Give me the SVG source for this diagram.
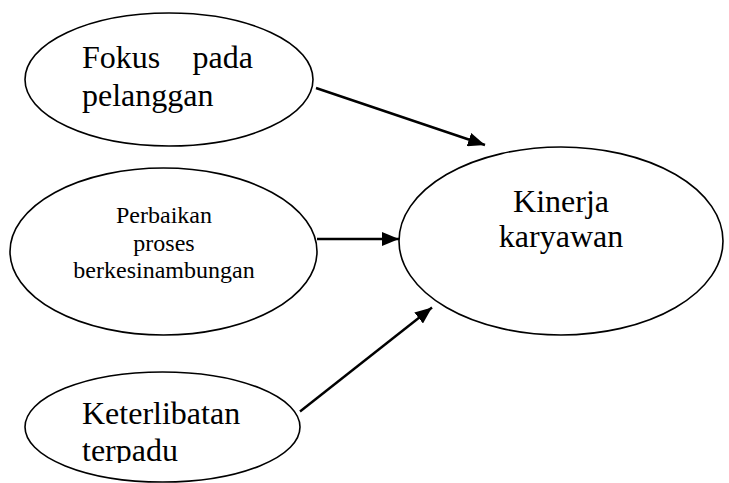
<svg xmlns="http://www.w3.org/2000/svg" width="729" height="483" viewBox="0 0 729 483">
<style>
.node ellipse{fill:#fff;stroke:#000;stroke-width:1.6}
text{font-family:"Liberation Serif","Times New Roman",serif;fill:#000}
.big{font-size:32px}
.small{font-size:24px}
.conn line{stroke:#000;stroke-width:2.4}
</style>
<defs>
<marker id="ah" markerUnits="userSpaceOnUse" markerWidth="18" markerHeight="14" refX="17" refY="7" orient="auto">
<path d="M0,0 L17,7 L0,14 z" fill="#000"/>
</marker>
<clipPath id="clip3"><rect x="0" y="360" width="729" height="103"/></clipPath>
</defs>
<rect width="729" height="483" fill="#fff"/>
<g id="fokus" class="node">
<ellipse cx="169" cy="79.5" rx="144" ry="66.5"/>
<text class="big" x="82" y="68">Fokus</text>
<text class="big" x="253" y="68" text-anchor="end">pada</text>
<text class="big" x="82" y="106">pelanggan</text>
</g>
<g id="perbaikan" class="node">
<ellipse cx="163.5" cy="251.5" rx="153.5" ry="83.5"/>
<text class="small" x="164" y="223" text-anchor="middle">Perbaikan</text>
<text class="small" x="164" y="250.5" text-anchor="middle">proses</text>
<text class="small" x="164" y="278" text-anchor="middle">berkesinambungan</text>
</g>
<g id="keterlibatan" class="node">
<ellipse cx="162.5" cy="427" rx="137.5" ry="55"/>
<g clip-path="url(#clip3)">
<text class="big" x="82" y="424">Keterlibatan</text>
<text class="big" x="82" y="461">terpadu</text>
</g>
</g>
<g id="kinerja" class="node">
<ellipse cx="561" cy="241" rx="162" ry="94"/>
<text class="big" x="561" y="211.5" text-anchor="middle">Kinerja</text>
<text class="big" x="561" y="246.5" text-anchor="middle">karyawan</text>
</g>
<g id="connectors" class="conn">
<line x1="316" y1="88" x2="485" y2="145" marker-end="url(#ah)"/>
<line x1="317" y1="239" x2="399" y2="239" marker-end="url(#ah)"/>
<line x1="300" y1="411.5" x2="432" y2="307.5" marker-end="url(#ah)"/>
</g>
</svg>
